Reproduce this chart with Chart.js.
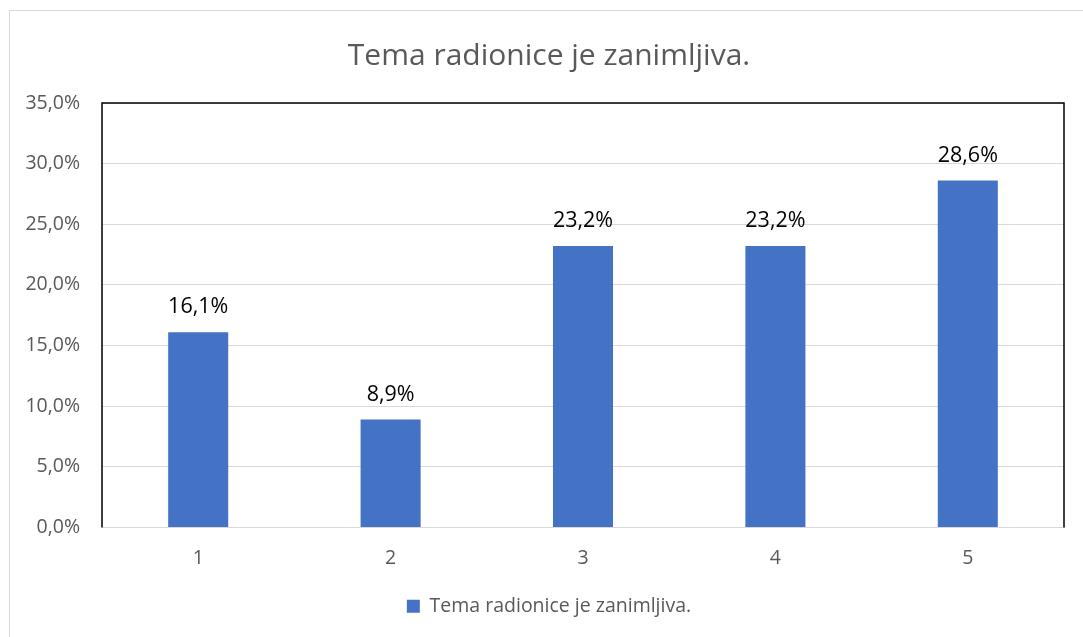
<!DOCTYPE html>
<html>
<head>
<meta charset="utf-8">
<script src="https://cdn.jsdelivr.net/npm/chart.js@4.4.1/dist/chart.umd.min.js"></script>
<style>
  html, body { margin: 0; padding: 0; background: #fff; }
  #frame { position: absolute; left: 9px; top: 10px; width: 1090px; height: 640px; border: 1px solid #d9d9d9; }
  #myChart { position: absolute; left: 0; top: 0; }
</style>
</head>
<body>
<div id="frame"></div>
<canvas id="myChart" width="1083" height="637"></canvas>
<script>
const categories = ['1', '2', '3', '4', '5'];
const values = [16.1, 8.9, 23.2, 23.2, 28.6];
const seriesName = 'Tema radionice je zanimljiva.';
const yTicks = [0, 5, 10, 15, 20, 25, 30, 35];

const fmt = v => v.toFixed(1).replace('.', ',') + '%';

// labels above the bars
const barLabels = {
  id: 'barLabels',
  afterDatasetsDraw(chart) {
    const ctx = chart.ctx;
    const meta = chart.getDatasetMeta(0);
    ctx.save();
    ctx.font = '21.5px "Open Sans"';
    ctx.fillStyle = '#000';
    ctx.textAlign = 'center';
    ctx.textBaseline = 'middle';
    meta.data.forEach((bar, i) => {
      ctx.fillText(fmt(values[i]), bar.x, bar.y - 25);
    });
    ctx.restore();
  }
};

// black frame on the plot area
const plotFrame = {
  id: 'plotFrame',
  afterDraw(chart) {
    const {left, right, top, bottom} = chart.chartArea;
    const ctx = chart.ctx;
    ctx.save();
    ctx.strokeStyle = '#000';
    ctx.lineWidth = 1.5;
    ctx.beginPath();
    ctx.moveTo(left, bottom);
    ctx.lineTo(left, top);
    ctx.lineTo(right, top);
    ctx.lineTo(right, bottom);
    ctx.stroke();
    ctx.restore();
  }
};

// title and legend sit centred on the outer frame, a bit right of the canvas centre
const shiftBoxes = {
  id: 'shiftBoxes',
  afterLayout(chart) {
    [chart.titleBlock, chart.legend].forEach(b => {
      if (b) { b.left += 17; b.right += 17; }
    });
  }
};

new Chart(document.getElementById('myChart'), {
  type: 'bar',
  data: {
    labels: categories,
    datasets: [{
      label: seriesName,
      data: values,
      backgroundColor: '#4472C4',
      borderWidth: 0,
      categoryPercentage: 1,
      barPercentage: 0.312
    }]
  },
  options: {
    responsive: false,
    animation: false,
    devicePixelRatio: 1,
    layout: { padding: { left: 0, right: 19, top: 0, bottom: 11 } },
    scales: {
      x: {
        grid: { display: false },
        border: { color: '#d9d9d9', width: 1 },
        ticks: { color: '#595959', font: { family: 'Open Sans', size: 19.5 }, padding: 11 },
        afterFit: s => { s.height = 59; }
      },
      y: {
        min: 0,
        max: 35,
        afterBuildTicks: s => { s.ticks = yTicks.map(v => ({ value: v })); },
        grid: { color: '#d9d9d9', drawTicks: false },
        border: { display: false },
        ticks: {
          color: '#595959',
          font: { family: 'Open Sans', size: 19.5 },
          padding: 22,
          callback: v => fmt(v)
        },
        afterFit: s => { s.width = 102; }
      }
    },
    plugins: {
      title: {
        display: true,
        text: seriesName,
        color: '#595959',
        font: { family: 'Open Sans', size: 30, weight: 'normal' },
        padding: { top: 38, bottom: 29 }
      },
      legend: {
        position: 'bottom',
        labels: {
          color: '#595959',
          font: { family: 'Open Sans', size: 19.5 },
          boxWidth: 13,
          boxHeight: 13,
          padding: 10
        }
      },
      tooltip: { enabled: false }
    }
  },
  plugins: [barLabels, plotFrame, shiftBoxes]
});
</script>
</body>
</html>
